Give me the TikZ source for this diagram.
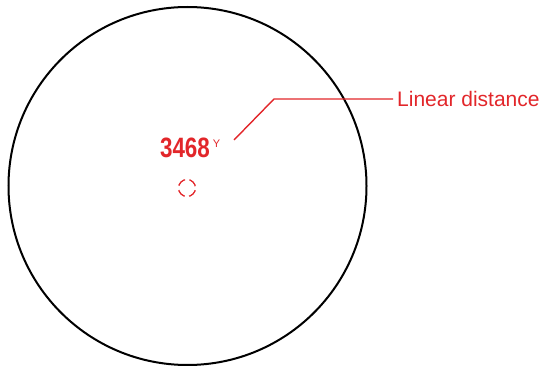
\documentclass[tikz,border=0pt]{standalone}
\usepackage{fontspec}
\setmainfont{Liberation Sans}
\usetikzlibrary{positioning}
\definecolor{lcdred}{RGB}{226,38,42}

\begin{document}
\begin{tikzpicture}[x=1pt, y=-1pt,
    % Viewfinder styles
    lens/.style={draw=black, line width=2pt},
    readout/.style={text=lcdred, font=\fontsize{28}{28}\selectfont\bfseries, inner sep=0pt},
    unitmark/.style={text=lcdred, font=\fontsize{11}{11}\selectfont, inner sep=0pt},
    reticle/.style={draw=lcdred, line width=1.3pt, dash pattern=on 9pt off 4.35pt, dash phase=11.18pt},
    leader/.style={draw=lcdred, line width=1.4pt},
    callout/.style={text=lcdred, font=\fontsize{21}{25}\selectfont, inner sep=4pt, anchor=west}
]
\useasboundingbox (0,0) rectangle (541,366);

% Field of view
\draw[lens] (187.5,186) circle[radius=179];

% Display
\node[readout] (distance) at (185,148) {\scalebox{0.8}[1]{3468}};
\node[unitmark] (yards) at (216.5,143.5) {Y};
\draw[reticle] (187,188) circle[radius=8.5];

% Callout
\node[callout] (label) at (393,99) {Linear distance};
\coordinate (tip) at (234,140);
\coordinate (bend) at (274,99);
\draw[leader] (tip) -- (bend) -- (label.west);

\end{tikzpicture}
\end{document}
